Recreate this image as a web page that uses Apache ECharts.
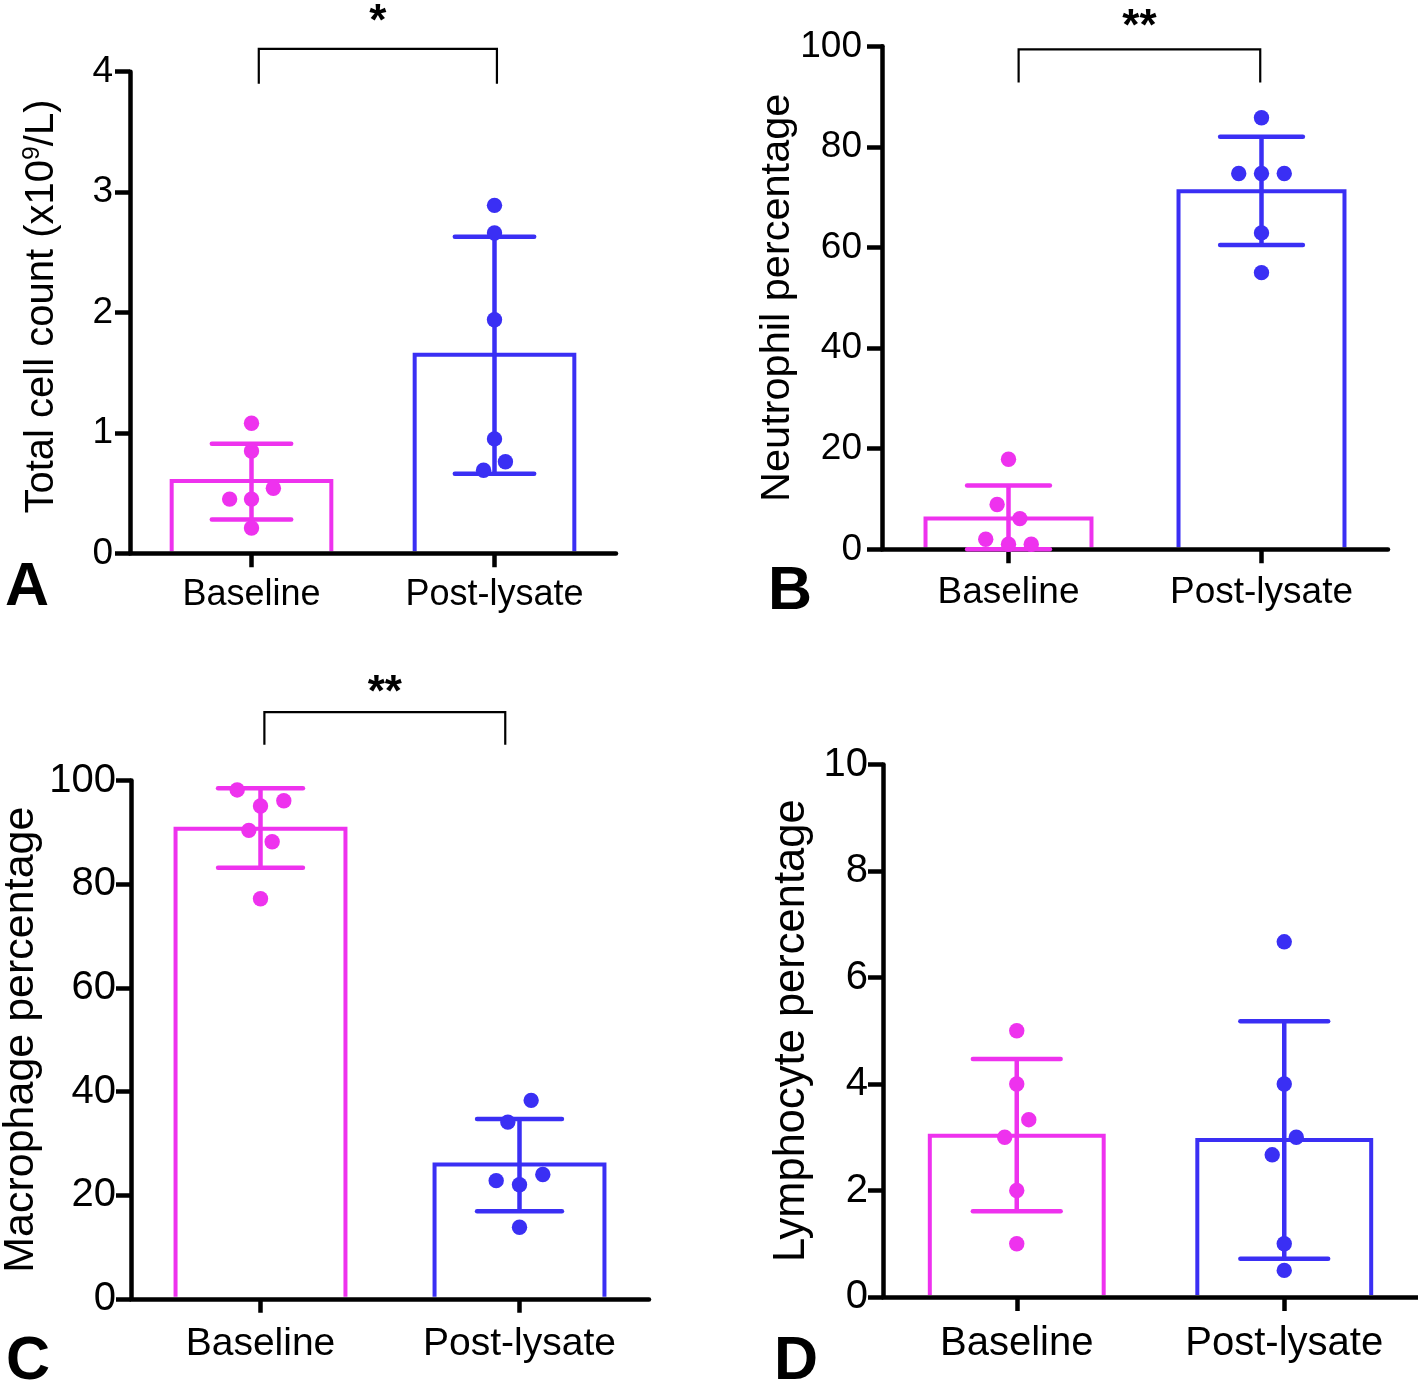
<!DOCTYPE html>
<html>
<head>
<meta charset="utf-8">
<script src="https://cdn.jsdelivr.net/npm/echarts@6/dist/echarts.min.js"></script>
<style>
html,body{margin:0;padding:0;background:#fff;}
#chart{width:1418px;height:1381px;}
</style>
</head>
<body>
<div id="chart"></div>
<script>
// ---------------- data ----------------
const categories = ['Baseline', 'Post-lysate'];

// A: total cell count (x10^9/L)
const cellMean = [0.60, 1.65];
const cellSdLow = [0.28, 0.66];
const cellSdHigh = [0.91, 2.63];
const cellBaseline = [1.08, 0.85, 0.54, 0.45, 0.45, 0.21];
const cellBaselineLane = [0, 0, 2, -2, 0, 0];
const cellPost = [2.89, 2.66, 1.94, 0.95, 0.76, 0.69];
const cellPostLane = [0, 0, 0, 0, 1, -1];
const cellTicks = [0, 1, 2, 3, 4];
const cellSig = ['*', 4.19, 3.90];

// B: neutrophil percentage
const neuMean = [6.1, 71.2];
const neuSdLow = [0, 60.5];
const neuSdHigh = [12.7, 82.0];
const neuBaseline = [17.9, 8.9, 6.1, 2.0, 1.0, 1.0];
const neuBaselineLane = [0, -1, 1, -2, 0, 2];
const neuPost = [85.8, 74.7, 74.7, 74.7, 62.9, 55.0];
const neuPostLane = [0, -2, 0, 2, 0, 0];
const neuTicks = [0, 20, 40, 60, 80, 100];
const neuSig = ['**', 99.4, 92.8];

// C: macrophage percentage
const macMean = [90.7, 25.9];
const macSdLow = [83.2, 16.9];
const macSdHigh = [98.5, 34.7];
const macBaseline = [98.2, 96.1, 95.1, 90.4, 88.2, 77.2];
const macBaselineLane = [-2, 2, 0, -1, 1, 0];
const macPost = [38.3, 34.1, 24.0, 22.8, 22.0, 13.8];
const macPostLane = [1, -1, 2, -2, 0, 0];
const macTicks = [0, 20, 40, 60, 80, 100];
const macSig = ['**', 113.2, 106.9];

// D: lymphocyte percentage
const lymMean = [3.03, 2.95];
const lymSdLow = [1.61, 0.72];
const lymSdHigh = [4.47, 5.18];
const lymBaseline = [5.0, 4.0, 3.33, 3.0, 2.0, 1.0];
const lymBaselineLane = [0, 0, 1, -1, 0, 0];
const lymPost = [6.67, 4.0, 3.0, 2.67, 1.0, 0.5];
const lymPostLane = [0, 0, 1, -1, 0, 0];
const lymTicks = [0, 2, 4, 6, 8, 10];

// ---------------- styling / layout ----------------
const FONT = '"Liberation Sans", Arial, Helvetica, sans-serif';
const COLORS = ['#EE32EE', '#3A2FF4'];
const LANE_STEP = 0.045;   // fraction of category band per dot lane
const CAP_FRAC = 0.345;    // error-bar cap width as fraction of band

const panels = [
  {
    letter: 'A', letterPos: [5, 588],
    grid: {left: 130, top: 71.7, width: 486, height: 481.6},
    ticks: cellTicks, mean: cellMean, lo: cellSdLow, hi: cellSdHigh,
    groups: [[cellBaseline, cellBaselineLane], [cellPost, cellPostLane]],
    sig: cellSig, sigEnds: [0.03, 1.01], starGap: 26,
    name: '{n|Total cell count (x10}{s|9}{n|/L)}', nameSize: 40, nameGap: 66, namePad: [0, 0, 0, 12],
    yLabelSize: 37, yLabelMargin: 17, xLabelSize: 36, xLabelMargin: 24, barFrac: 0.657
  },
  {
    letter: 'B', letterPos: [768, 592],
    grid: {left: 882, top: 46.3, width: 506, height: 503},
    ticks: neuTicks, mean: neuMean, lo: neuSdLow, hi: neuSdHigh,
    groups: [[neuBaseline, neuBaselineLane], [neuPost, neuPostLane]],
    sig: neuSig, sigEnds: [0.04, 0.995], starGap: 21,
    name: '{n|Neutrophil percentage}', nameSize: 41.5, nameGap: 82, namePad: [0, 0, 0, 0],
    yLabelSize: 37, yLabelMargin: 20, xLabelSize: 37, xLabelMargin: 25, barFrac: 0.656
  },
  {
    letter: 'C', letterPos: [6, 1362],
    grid: {left: 131, top: 780.6, width: 518, height: 518.2},
    ticks: macTicks, mean: macMean, lo: macSdLow, hi: macSdHigh,
    groups: [[macBaseline, macBaselineLane], [macPost, macPostLane]],
    sig: macSig, sigEnds: [0.015, 0.945], starGap: 18,
    name: '{n|Macrophage percentage}', nameSize: 43, nameGap: 86, namePad: [0, 0, 0, 0],
    yLabelSize: 40, yLabelMargin: 15, xLabelSize: 39, xLabelMargin: 26, barFrac: 0.656
  },
  {
    letter: 'D', letterPos: [774, 1362],
    grid: {left: 883, top: 764.5, width: 535, height: 532.5},
    ticks: lymTicks, mean: lymMean, lo: lymSdLow, hi: lymSdHigh,
    groups: [[lymBaseline, lymBaselineLane], [lymPost, lymPostLane]],
    sig: null, sigEnds: null, starGap: 0,
    name: '{n|Lymphocyte percentage}', nameSize: 43.5, nameGap: 67, namePad: [0, 0, 0, 0],
    yLabelSize: 40, yLabelMargin: 15, xLabelSize: 40, xLabelMargin: 27, barFrac: 0.65
  }
];

function makeBarRender(frac) {
  return function (params, api) {
    const cat = api.value(0);
    const pTop = api.coord([cat, api.value(1)]);
    const pBase = api.coord([cat, 0]);
    const band = api.size([1, 0])[0];
    const half = band * frac / 2;
    const xl = pTop[0] - half, xr = pTop[0] + half;
    return {
      type: 'group',
      children: [
        {type: 'rect', shape: {x: xl, y: pTop[1], width: xr - xl, height: pBase[1] - pTop[1]},
         style: {fill: '#fff'}},
        {type: 'polyline',
         shape: {points: [[xl, pBase[1] - 2], [xl, pTop[1]], [xr, pTop[1]], [xr, pBase[1] - 2]]},
         style: {stroke: COLORS[cat], lineWidth: 4, fill: null, lineJoin: 'miter'}}
      ]
    };
  };
}

function errorBarRender(params, api) {
  const cat = api.value(0);
  const pLo = api.coord([cat, api.value(1)]);
  const pHi = api.coord([cat, api.value(2)]);
  const band = api.size([1, 0])[0];
  const lw = 4.5;
  const half = band * CAP_FRAC / 2 - lw / 2;
  const color = COLORS[cat];
  const st = {stroke: color, lineWidth: lw, lineCap: 'round'};
  return {
    type: 'group',
    children: [
      {type: 'line', shape: {x1: pLo[0], y1: pLo[1], x2: pHi[0], y2: pHi[1]}, style: {stroke: color, lineWidth: lw}},
      {type: 'line', shape: {x1: pHi[0] - half, y1: pHi[1], x2: pHi[0] + half, y2: pHi[1]}, style: st},
      {type: 'line', shape: {x1: pLo[0] - half, y1: pLo[1], x2: pLo[0] + half, y2: pLo[1]}, style: st}
    ]
  };
}

function dotRender(params, api) {
  const cat = api.value(0);
  const p = api.coord([cat, api.value(1)]);
  const band = api.size([1, 0])[0];
  const x = p[0] + api.value(2) * LANE_STEP * band;
  return {type: 'circle', shape: {cx: x, cy: p[1], r: 7.7}, style: {fill: COLORS[cat]}};
}

function makeSigRender(ends, label, gap) {
  return function (params, api) {
    const top = api.value(1), end = api.value(2);
    const p0 = api.coord([0, top]);
    const pe = api.coord([0, end]);
    const band = api.size([1, 0])[0];
    const xa = p0[0] + ends[0] * band;
    const xb = p0[0] + ends[1] * band;
    return {
      type: 'group',
      children: [
        {type: 'polyline', shape: {points: [[xa, pe[1]], [xa, p0[1]], [xb, p0[1]], [xb, pe[1]]]},
         style: {stroke: '#000', lineWidth: 2.2, fill: null}},
        {type: 'text', x: (xa + xb) / 2, y: p0[1] - gap,
         style: {text: label, font: 'bold 44px ' + FONT, fill: '#000',
                 align: 'center', verticalAlign: 'middle', textAlign: 'center', textVerticalAlign: 'middle'}}
      ]
    };
  };
}

const option = {
  backgroundColor: '#fff',
  animation: false,
  grid: [], xAxis: [], yAxis: [], series: [], graphic: []
};

panels.forEach((pn, i) => {
  option.grid.push(Object.assign({outerBoundsMode: 'none', containLabel: false}, pn.grid));
  option.xAxis.push({
    gridIndex: i, type: 'category', data: categories, z: 3,
    axisLine: {lineStyle: {color: '#000', width: 4.5}},
    axisTick: {show: true, alignWithLabel: true, length: 14, lineStyle: {color: '#000', width: 4.5}},
    axisLabel: {color: '#000', fontSize: pn.xLabelSize, fontFamily: FONT, margin: pn.xLabelMargin, interval: 0},
    splitLine: {show: false}
  });
  option.yAxis.push({
    gridIndex: i, type: 'value', min: pn.ticks[0], max: pn.ticks[pn.ticks.length - 1],
    interval: pn.ticks[1] - pn.ticks[0], z: 3,
    axisLine: {show: true, lineStyle: {color: '#000', width: 4.5}},
    axisTick: {show: true, length: 15, lineStyle: {color: '#000', width: 4.5}},
    axisLabel: {color: '#000', fontSize: pn.yLabelSize, fontFamily: FONT, margin: pn.yLabelMargin},
    splitLine: {show: false},
    name: pn.name, nameLocation: 'middle', nameRotate: 90, nameGap: pn.nameGap, nameMoveOverlap: false,
    nameTextStyle: {
      color: '#000', fontFamily: FONT, fontSize: pn.nameSize, padding: pn.namePad,
      rich: {
        n: {color: '#000', fontFamily: FONT, fontSize: pn.nameSize, lineHeight: pn.nameSize * 1.1},
        s: {color: '#000', fontFamily: FONT, fontSize: pn.nameSize * 0.62, lineHeight: pn.nameSize * 1.1, verticalAlign: 'top'}
      }
    }
  });
  option.series.push({
    type: 'custom', xAxisIndex: i, yAxisIndex: i, z: 1, silent: true,
    renderItem: makeBarRender(pn.barFrac), encode: {x: 0, y: 1},
    data: pn.mean.map((v, k) => [k, v])
  });
  option.series.push({
    type: 'custom', xAxisIndex: i, yAxisIndex: i, z: 5, silent: true,
    renderItem: errorBarRender, encode: {x: 0, y: [1, 2]},
    data: [0, 1].map(k => [k, pn.lo[k], pn.hi[k]])
  });
  const dots = [];
  pn.groups.forEach((g, k) => g[0].forEach((v, j) => dots.push([k, v, g[1][j]])));
  option.series.push({
    type: 'custom', xAxisIndex: i, yAxisIndex: i, z: 6, silent: true,
    renderItem: dotRender, encode: {x: 0, y: 1}, data: dots
  });
  if (pn.sig) {
    option.series.push({
      type: 'custom', xAxisIndex: i, yAxisIndex: i, z: 6, silent: true, clip: false,
      renderItem: makeSigRender(pn.sigEnds, pn.sig[0], pn.starGap),
      encode: {x: 0, y: [1, 2]},
      data: [[0, pn.sig[1], pn.sig[2]]]
    });
  }
  option.graphic.push({
    type: 'text', x: pn.letterPos[0], y: pn.letterPos[1], silent: true,
    style: {text: pn.letter, font: 'bold 61px ' + FONT, fill: '#000',
            textAlign: 'left', textVerticalAlign: 'middle', align: 'left', verticalAlign: 'middle'}
  });
});

const chart = echarts.init(document.getElementById('chart'), null, {renderer: 'canvas'});
chart.setOption(option);
</script>
</body>
</html>
